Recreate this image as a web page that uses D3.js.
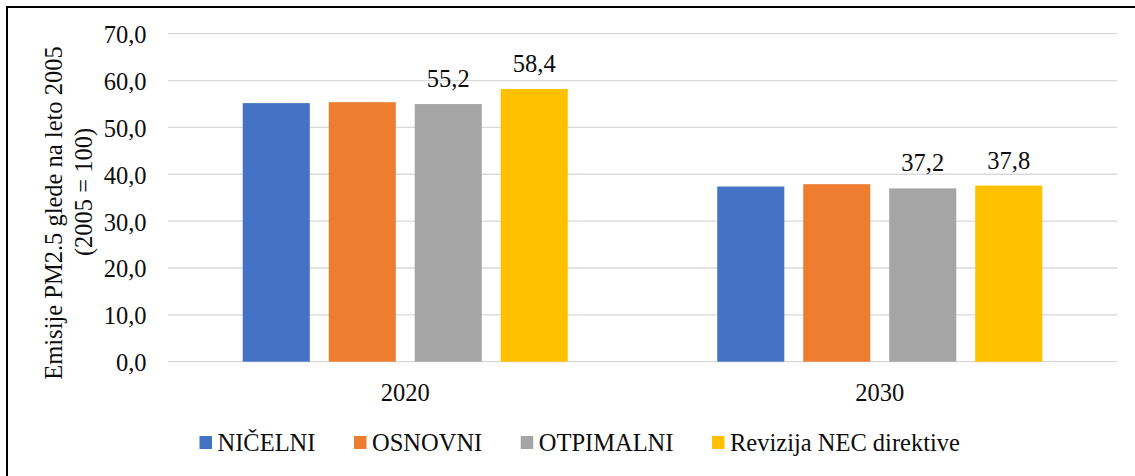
<!DOCTYPE html>
<html>
<head>
<meta charset="utf-8">
<script src="https://cdn.jsdelivr.net/npm/d3@7"></script>
<style>
  body { margin: 0; background: #fff; }
</style>
</head>
<body>
<script>
const years = ['2020', '2030'];
const seriesNames = ['NIČELNI', 'OSNOVNI', 'OTPIMALNI', 'Revizija NEC direktive'];
const seriesColors = ['#4472C4', '#ED7D31', '#A5A5A5', '#FFC000'];
// values per series, one entry per year
const nicelni = [55.4, 37.6];
const osnovni = [55.6, 38.1];
const otpimalni = [55.2, 37.2];
const revizija = [58.4, 37.8];
const labelled = [false, false, true, true];
const yTicks = [0, 10, 20, 30, 40, 50, 60, 70];

const values = [nicelni, osnovni, otpimalni, revizija];

const width = 1135, height = 476;
const svg = d3.select('body')
    .append('svg')
    .attr('width', width)
    .attr('height', height)
    .attr('font-family', '"Liberation Serif", "Times New Roman", serif')
    .attr('fill', '#0d0d0d');

const fmt = v => d3.format('.1f')(v).replace('.', ',');

// frame (only top and left edges visible in the picture)
svg.append('path')
    .attr('d', `M7,${height + 5} L7,7 L${width + 5},7`)
    .attr('fill', 'none')
    .attr('stroke', '#000')
    .attr('stroke-width', 2);

const plotLeft = 168, plotRight = 1117, plotTop = 33.7, plotBottom = 361.7;

const y = d3.scaleLinear().domain([0, 70]).range([plotBottom, plotTop]);
const x0 = d3.scaleBand().domain(years).range([plotLeft, plotRight])
    .paddingInner(0.315).paddingOuter(0.1575);
const x1 = d3.scaleBand().domain(d3.range(seriesNames.length))
    .range([0, x0.bandwidth()]).paddingInner(0.22);

// gridlines
svg.append('g')
    .selectAll('line')
    .data(yTicks)
    .enter()
    .append('line')
    .attr('x1', plotLeft)
    .attr('x2', plotRight)
    .attr('y1', d => y(d))
    .attr('y2', d => y(d))
    .attr('stroke', '#D9D9D9')
    .attr('stroke-width', 1.3);

// y tick labels
svg.append('g')
    .selectAll('text')
    .data(yTicks)
    .enter()
    .append('text')
    .attr('x', 146.5)
    .attr('y', d => y(d) + 9.5)
    .attr('text-anchor', 'end')
    .attr('font-size', 24.5)
    .text(d => fmt(d));

// bars
const groups = svg.selectAll('g.year')
    .data(years)
    .enter()
    .append('g')
    .attr('class', 'year')
    .attr('transform', d => `translate(${x0(d)},0)`);

groups.selectAll('rect')
    .data((d, i) => values.map((s, k) => ({ k: k, v: s[i] })))
    .enter()
    .append('rect')
    .attr('x', d => x1(d.k))
    .attr('width', x1.bandwidth())
    .attr('y', d => y(d.v) + 1)
    .attr('height', d => plotBottom - y(d.v) - 1)
    .attr('fill', d => seriesColors[d.k]);

groups.selectAll('text.lbl')
    .data((d, i) => values.map((s, k) => ({ k: k, v: s[i] })).filter(d => labelled[d.k]))
    .enter()
    .append('text')
    .attr('class', 'lbl')
    .attr('x', d => x1(d.k) + x1.bandwidth() / 2)
    .attr('y', d => y(d.v) - 16)
    .attr('text-anchor', 'middle')
    .attr('font-size', 24.5)
    .text(d => fmt(d.v));

// category labels
svg.append('g')
    .selectAll('text')
    .data(years)
    .enter()
    .append('text')
    .attr('x', d => x0(d) + x0.bandwidth() / 2)
    .attr('y', 400.5)
    .attr('text-anchor', 'middle')
    .attr('font-size', 24.5)
    .text(d => d);

// y axis title
svg.append('text')
    .attr('transform', 'translate(61.5,213) rotate(-90)')
    .attr('text-anchor', 'middle')
    .attr('font-size', 24.5)
    .text('Emisije PM2.5 glede na leto 2005');
svg.append('text')
    .attr('transform', 'translate(91.5,192) rotate(-90)')
    .attr('text-anchor', 'middle')
    .attr('font-size', 24.5)
    .text('(2005 = 100)');

// legend
const legend = svg.append('g');
let lx = 199.5;
seriesNames.forEach((name, k) => {
    legend.append('rect')
        .attr('x', lx)
        .attr('y', 436)
        .attr('width', 12.5)
        .attr('height', 13)
        .attr('fill', seriesColors[k]);
    const t = legend.append('text')
        .attr('x', lx + 18)
        .attr('y', 451)
        .attr('font-size', 24.5)
        .text(name);
    lx += 18 + t.node().getComputedTextLength() + 38.5;
});
</script>
</body>
</html>
